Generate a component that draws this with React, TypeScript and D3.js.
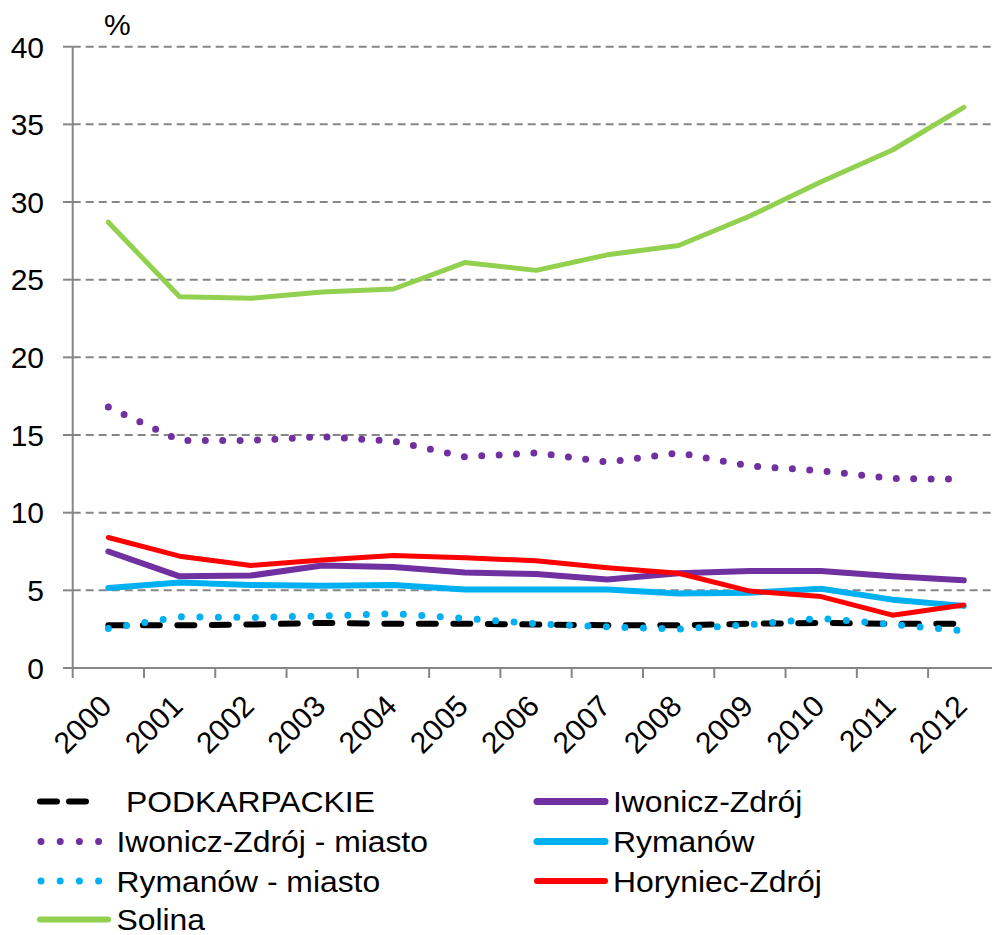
import * as d3 from 'd3';
import React, { useEffect, useRef } from 'react';

const years = ['2000', '2001', '2002', '2003', '2004', '2005', '2006', '2007', '2008', '2009', '2010', '2011', '2012'];
const yTicks = [0, 5, 10, 15, 20, 25, 30, 35, 40];

const podkarpackie = [2.75, 2.75, 2.8, 2.9, 2.85, 2.85, 2.8, 2.75, 2.75, 2.85, 2.9, 2.85, 2.85];
const iwonicz = [7.5, 5.9, 5.95, 6.6, 6.5, 6.15, 6.05, 5.7, 6.1, 6.25, 6.25, 5.9, 5.65];
const iwoniczMiasto = [16.8, 14.65, 14.65, 14.9, 14.6, 13.6, 13.85, 13.25, 13.85, 13.0, 12.7, 12.2, 12.15];
const rymanow = [5.15, 5.5, 5.35, 5.3, 5.35, 5.05, 5.05, 5.05, 4.8, 4.85, 5.1, 4.4, 4.0];
const rymanowMiasto = [2.55, 3.3, 3.25, 3.35, 3.5, 3.2, 2.85, 2.65, 2.5, 2.8, 3.2, 2.8, 2.4];
const horyniec = [8.4, 7.2, 6.6, 6.95, 7.25, 7.1, 6.9, 6.45, 6.1, 4.95, 4.6, 3.4, 4.05];
const solina = [28.7, 23.9, 23.8, 24.2, 24.4, 26.1, 25.6, 26.6, 27.2, 29.1, 31.3, 33.35, 36.1];

const series = [
  { name: 'PODKARPACKIE', values: podkarpackie, color: '#000000', width: 6, dash: '17 17.5', col: 0, row: 0 },
  { name: 'Iwonicz-Zdrój', values: iwonicz, color: '#7030A0', width: 6, dash: null, col: 1, row: 0 },
  { name: 'Iwonicz-Zdrój - miasto', values: iwoniczMiasto, color: '#7030A0', width: 7, dash: '0 17.4', col: 0, row: 1 },
  { name: 'Rymanów', values: rymanow, color: '#00B0F0', width: 6, dash: null, col: 1, row: 1 },
  { name: 'Rymanów - miasto', values: rymanowMiasto, color: '#00B0F0', width: 7, dash: '0 18.5', col: 0, row: 2 },
  { name: 'Horyniec-Zdrój', values: horyniec, color: '#FF0000', width: 5, dash: null, col: 1, row: 2 },
  { name: 'Solina', values: solina, color: '#92D050', width: 5, dash: null, col: 0, row: 3 },
];

const FONT = '"Liberation Sans", Arial, sans-serif';

const App = () => {
  const ref = useRef<SVGSVGElement>(null);

  useEffect(() => {
    if (!ref.current) return;
    const svg = d3.select(ref.current);
    svg.selectAll('*').remove();

    const left = 72.7, right = 999.4, top = 46.7, bottom = 668;
    const x = d3.scaleBand().domain(years).range([left, right]).paddingInner(0).paddingOuter(0);
    const y = d3.scaleLinear().domain([0, 40]).range([bottom, top]);
    const cx = (d: string) => (x(d) as number) + x.bandwidth() / 2;
    const gray = '#868686';

    // gridlines
    svg.append('g').selectAll('line')
      .data(yTicks.filter(t => t > 0))
      .join('line')
      .attr('x1', left).attr('x2', 992)
      .attr('y1', d => y(d)).attr('y2', d => y(d))
      .attr('stroke', gray).attr('stroke-width', 2)
      .attr('stroke-dasharray', '8 5');

    // y axis
    const ya = svg.append('g');
    ya.append('line').attr('x1', left).attr('x2', left).attr('y1', top).attr('y2', bottom)
      .attr('stroke', gray).attr('stroke-width', 2);
    ya.selectAll('line.tick').data(yTicks).join('line').attr('class', 'tick')
      .attr('x1', 63).attr('x2', left).attr('y1', d => y(d)).attr('y2', d => y(d))
      .attr('stroke', gray).attr('stroke-width', 2);
    ya.selectAll('text').data(yTicks).join('text')
      .attr('x', 44).attr('y', d => y(d)).attr('dy', '0.36em')
      .attr('text-anchor', 'end').attr('font-family', FONT).attr('font-size', 30)
      .text(d => d);

    svg.append('text').attr('x', 104).attr('y', 35)
      .attr('font-family', FONT).attr('font-size', 30).text('%');

    // x axis
    const xa = svg.append('g');
    xa.append('line').attr('x1', 63).attr('x2', 992).attr('y1', bottom).attr('y2', bottom)
      .attr('stroke', gray).attr('stroke-width', 2);
    const bounds = years.map(d => x(d) as number).concat([right]);
    xa.selectAll('line.tick').data(bounds).join('line').attr('class', 'tick')
      .attr('x1', d => d).attr('x2', d => d).attr('y1', bottom).attr('y2', bottom + 10)
      .attr('stroke', gray).attr('stroke-width', 2);
    xa.selectAll('text').data(years).join('text')
      .attr('transform', d => `translate(${cx(d) + 5},${bottom + 40}) rotate(-45)`)
      .attr('text-anchor', 'end').attr('font-family', FONT).attr('font-size', 30)
      .text(d => d);

    // lines
    const line = d3.line<number>().x((_, i) => cx(years[i])).y(d => y(d));
    series.forEach(s => {
      const p = svg.append('path')
        .attr('d', line(s.values))
        .attr('fill', 'none')
        .attr('stroke', s.color)
        .attr('stroke-width', s.width)
        .attr('stroke-linecap', 'round')
        .attr('stroke-linejoin', 'round');
      if (s.dash) p.attr('stroke-dasharray', s.dash);
    });

    // legend
    const lg = svg.append('g');
    const rowY = [801.5, 841.5, 881, 919.5];
    const colX = [37, 534];
    series.forEach(s => {
      const yy = rowY[s.row];
      const x0 = colX[s.col];
      const g = lg.append('g');
      if (s.dash === '17 17.5') {
        g.append('line').attr('x1', x0 + 3).attr('x2', x0 + 60).attr('y1', yy).attr('y2', yy)
          .attr('stroke', s.color).attr('stroke-width', 6).attr('stroke-linecap', 'round')
          .attr('stroke-dasharray', '17 12');
      } else if (s.dash) {
        g.append('line').attr('x1', x0 + 4).attr('x2', x0 + 62).attr('y1', yy).attr('y2', yy)
          .attr('stroke', s.color).attr('stroke-width', 7).attr('stroke-linecap', 'round')
          .attr('stroke-dasharray', '0 19.2');
      } else {
        g.append('line').attr('x1', x0 + 3).attr('x2', x0 + 71).attr('y1', yy).attr('y2', yy)
          .attr('stroke', s.color).attr('stroke-width', s.width + 1).attr('stroke-linecap', 'round');
      }
      const tx = s.col === 0 ? (s.row === 0 ? 126 : 116.5) : 613;
      g.append('text')
        .attr('transform', `translate(${tx},${yy + 10.5}) scale(1.08,1)`)
        .attr('font-family', FONT).attr('font-size', 29.5).text(s.name);
    });
  }, []);

  return (
    <svg ref={ref} width={992} height={935}
      style={{ position: 'absolute', left: 0, top: 0, background: '#fff' }} />
  );
};

export default App;
